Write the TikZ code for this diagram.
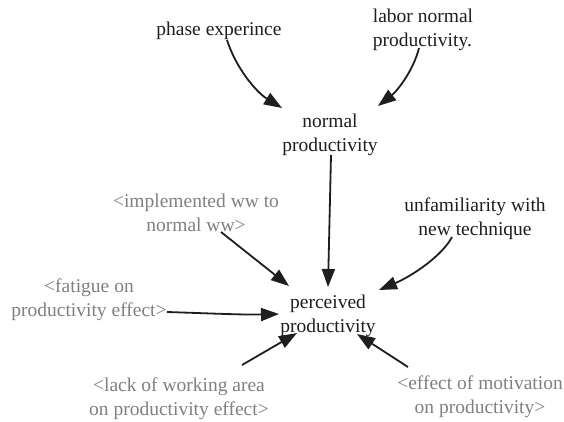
\documentclass[tikz,border=0pt]{standalone}
\usepackage{fontspec}
\setmainfont{Liberation Serif}
\usetikzlibrary{arrows.meta}
\definecolor{ink}{RGB}{30,30,30}
\definecolor{shadow}{RGB}{128,128,128}
\tikzset{
  lbl/.style={align=center, inner sep=2pt, font=\fontsize{19.5}{24}\selectfont, text=ink},
  ghost/.style={lbl, text=shadow},
  arr/.style={draw=ink, line width=1.8pt, -{Triangle[length=18pt,width=13pt]}}
}
\begin{document}
\begin{tikzpicture}[x=1pt,y=-1pt]
\useasboundingbox (0,0) rectangle (564,421);
\node[lbl] (P) at (219,30.5) {phase experince};
\node[lbl, align=left] (L) at (423,30) {labor normal\\productivity.};
\node[lbl] (N) at (330,135) {normal\\productivity};
\node[lbl] (Q) at (328,316) {perceived\\productivity};
\node[ghost] (I) at (196,212.5) {<implemented ww to\\normal ww>};
\node[lbl] (U) at (475,219) {unfamiliarity with\\new technique};
\node[ghost] (F) at (89,300) {<fatigue on\\productivity effect>};
\node[ghost] (K) at (179,399) {<lack of working area\\on productivity effect>};
\node[ghost] (E) at (480,397) {<effect of motivation\\on productivity>};

\draw[arr] ([shift={(8,9.5)}]P.center) .. controls (236,68) and (256,92) .. ([shift={(-48,-27)}]N.center);
\draw[arr] ([shift={(-4,18)}]L.center) .. controls (413,72) and (396,92) .. ([shift={(48,-29)}]N.center);
\draw[arr] ([shift={(1,20)}]N.center) -- ([shift={(0,-29)}]Q.center);
\draw[arr] ([shift={(25,19.5)}]I.center) -- ([shift={(-39,-30)}]Q.center);
\draw[arr] ([shift={(-23,18)}]U.center) .. controls (442,256) and (412,276) .. ([shift={(51,-26)}]Q.center);
\draw[arr] ([shift={(78,12)}]F.center) .. controls (200,313) and (245,315) .. ([shift={(-49,-2)}]Q.center);
\draw[arr] ([shift={(63,-34)}]K.center) -- ([shift={(-31,17)}]Q.center);
\draw[arr] ([shift={(-72,-30)}]E.center) -- ([shift={(29,18)}]Q.center);
\end{tikzpicture}
\end{document}
